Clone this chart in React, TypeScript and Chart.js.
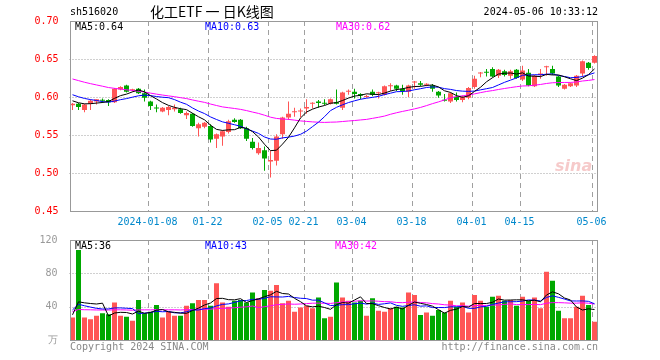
import React, { useEffect, useRef } from 'react';
import { Chart, registerables } from 'chart.js';

Chart.register(...registerables);

// ---------------- data ----------------
const dates = [
  '2023-12-19', '2023-12-20', '2023-12-21', '2023-12-22', '2023-12-25', '2023-12-26', '2023-12-27', '2023-12-28', '2023-12-29',
  '2024-01-02', '2024-01-03', '2024-01-04', '2024-01-05', '2024-01-08', '2024-01-09', '2024-01-10', '2024-01-11', '2024-01-12',
  '2024-01-15', '2024-01-16', '2024-01-17', '2024-01-18', '2024-01-19', '2024-01-22', '2024-01-23', '2024-01-24', '2024-01-25',
  '2024-01-26', '2024-01-29', '2024-01-30', '2024-01-31',
  '2024-02-01', '2024-02-02', '2024-02-05', '2024-02-06', '2024-02-07', '2024-02-08', '2024-02-19', '2024-02-20', '2024-02-21',
  '2024-02-22', '2024-02-23', '2024-02-26', '2024-02-27', '2024-02-28', '2024-02-29',
  '2024-03-01', '2024-03-04', '2024-03-05', '2024-03-06', '2024-03-07', '2024-03-08', '2024-03-11', '2024-03-12', '2024-03-13',
  '2024-03-14', '2024-03-15', '2024-03-18', '2024-03-19', '2024-03-20', '2024-03-21', '2024-03-22', '2024-03-25', '2024-03-26',
  '2024-03-27', '2024-03-28', '2024-03-29',
  '2024-04-01', '2024-04-02', '2024-04-03', '2024-04-08', '2024-04-09', '2024-04-10', '2024-04-11', '2024-04-12', '2024-04-15',
  '2024-04-16', '2024-04-17', '2024-04-18', '2024-04-19', '2024-04-22', '2024-04-23', '2024-04-24', '2024-04-25', '2024-04-26',
  '2024-04-29', '2024-04-30',
  '2024-05-06',
];

const opens = [
  0.589, 0.591, 0.583, 0.591, 0.594, 0.596, 0.596, 0.593, 0.610, 0.615,
  0.609, 0.611, 0.605, 0.594, 0.586, 0.581, 0.583, 0.584, 0.584, 0.576,
  0.578, 0.559, 0.561, 0.562, 0.545, 0.548, 0.554, 0.570, 0.570, 0.559,
  0.541, 0.526, 0.530, 0.515, 0.516, 0.551, 0.573, 0.580, 0.581, 0.585,
  0.591, 0.594, 0.592, 0.591, 0.593, 0.586, 0.607, 0.607, 0.604, 0.600,
  0.607, 0.605, 0.603, 0.614, 0.615, 0.611, 0.607, 0.619, 0.618, 0.616,
  0.615, 0.607, 0.596, 0.594, 0.600, 0.596, 0.599, 0.613, 0.631, 0.633,
  0.637, 0.628, 0.634, 0.628, 0.636, 0.623, 0.632, 0.614, 0.629, 0.639,
  0.637, 0.627, 0.611, 0.614, 0.615, 0.631, 0.645, 0.645,
];
const highs = [
  0.592, 0.592, 0.591, 0.597, 0.597, 0.598, 0.597, 0.612, 0.614, 0.616,
  0.611, 0.612, 0.610, 0.595, 0.590, 0.587, 0.588, 0.590, 0.586, 0.581,
  0.579, 0.566, 0.567, 0.564, 0.552, 0.556, 0.570, 0.572, 0.571, 0.561,
  0.546, 0.540, 0.535, 0.529, 0.551, 0.574, 0.594, 0.586, 0.585, 0.597,
  0.593, 0.596, 0.597, 0.598, 0.610, 0.607, 0.610, 0.611, 0.605, 0.603,
  0.610, 0.607, 0.615, 0.618, 0.616, 0.616, 0.616, 0.621, 0.621, 0.618,
  0.617, 0.608, 0.604, 0.606, 0.606, 0.602, 0.613, 0.628, 0.633, 0.637,
  0.639, 0.637, 0.636, 0.636, 0.637, 0.641, 0.637, 0.629, 0.637, 0.641,
  0.641, 0.628, 0.617, 0.619, 0.629, 0.648, 0.646, 0.655,
];
const lows = [
  0.583, 0.583, 0.580, 0.583, 0.590, 0.592, 0.588, 0.592, 0.609, 0.606,
  0.607, 0.604, 0.594, 0.583, 0.580, 0.580, 0.576, 0.581, 0.578, 0.571,
  0.561, 0.548, 0.559, 0.540, 0.533, 0.536, 0.552, 0.566, 0.558, 0.542,
  0.531, 0.524, 0.503, 0.494, 0.510, 0.545, 0.570, 0.574, 0.573, 0.578,
  0.585, 0.586, 0.589, 0.590, 0.590, 0.583, 0.603, 0.598, 0.597, 0.599,
  0.601, 0.598, 0.602, 0.608, 0.608, 0.603, 0.600, 0.611, 0.614, 0.614,
  0.607, 0.599, 0.594, 0.592, 0.594, 0.593, 0.597, 0.611, 0.626, 0.627,
  0.626, 0.625, 0.627, 0.624, 0.624, 0.621, 0.614, 0.613, 0.624, 0.628,
  0.629, 0.613, 0.610, 0.613, 0.613, 0.627, 0.636, 0.644,
];
const closes = [
  0.591, 0.587, 0.590, 0.595, 0.597, 0.595, 0.593, 0.611, 0.613, 0.607,
  0.610, 0.605, 0.599, 0.588, 0.585, 0.586, 0.587, 0.586, 0.579, 0.579,
  0.562, 0.564, 0.566, 0.544, 0.551, 0.555, 0.568, 0.567, 0.559, 0.545,
  0.533, 0.533, 0.519, 0.517, 0.548, 0.573, 0.578, 0.581, 0.582, 0.587,
  0.592, 0.592, 0.591, 0.597, 0.591, 0.606, 0.608, 0.604, 0.602, 0.601,
  0.603, 0.606, 0.614, 0.615, 0.611, 0.608, 0.615, 0.620, 0.616, 0.617,
  0.611, 0.602, 0.595, 0.605, 0.596, 0.600, 0.612, 0.624, 0.632, 0.632,
  0.627, 0.636, 0.629, 0.634, 0.625, 0.635, 0.615, 0.628, 0.631, 0.640,
  0.631, 0.615, 0.616, 0.618, 0.628, 0.647, 0.638, 0.654,
];
// closes before the first visible day (feed the moving averages)
const priorCloses = [
  0.652, 0.655, 0.650, 0.648, 0.645, 0.646, 0.642, 0.640, 0.638, 0.635,
  0.636, 0.632, 0.630, 0.625, 0.622, 0.620, 0.618, 0.617, 0.615, 0.616,
  0.614, 0.612, 0.610, 0.609, 0.610, 0.600, 0.597, 0.594, 0.593,
];

// volume, 万 (10k)
const volumes = [
  27, 108, 27, 25, 29, 32, 31, 45, 29, 28,
  23, 48, 32, 34, 42, 27, 34, 29, 29, 41,
  44, 48, 48, 41, 68, 45, 40, 47, 48, 45,
  57, 50, 60, 59, 66, 44, 47, 34, 39, 41,
  38, 51, 26, 28, 69, 51, 47, 45, 47, 29,
  50, 35, 34, 38, 40, 39, 57, 54, 30, 33,
  29, 36, 33, 47, 40, 45, 33, 54, 47, 40,
  52, 53, 47, 48, 41, 52, 47, 51, 38, 82,
  71, 35, 26, 26, 40, 53, 42, 22,
];
const priorVolumes = [
  30, 36, 28, 35, 33, 31, 38, 29, 34, 32,
  36, 30, 35, 33, 31, 37, 29, 34, 32, 37,
  40, 45, 41, 44, 40, 30, 33, 29, 32,
];

const tickDates = [
  '2024-01-08', '2024-01-22', '2024-02-05', '2024-02-21', '2024-03-04',
  '2024-03-18', '2024-04-01', '2024-04-15', '2024-05-06',
];
const priceTicks = [0.45, 0.5, 0.55, 0.6, 0.65, 0.7];
const volumeTicks = [0, 40, 80, 120];

const CODE = 'sh516020';
const TITLE = '化工ETF 一 日K线图';
const TIMESTAMP = '2024-05-06 10:33:12';
const PRICE_LEGEND = ['MA5:0.64', 'MA10:0.63', 'MA30:0.62'];
const VOLUME_LEGEND = ['MA5:36', 'MA10:43', 'MA30:42'];
const VOLUME_UNIT = '万';
const COPYRIGHT = 'Copyright 2024 SINA.COM';
const SITE = 'http://finance.sina.com.cn';
const WATERMARK = 'sina';

// ---------------- styles ----------------
const UP = '#FF5555';
const DOWN = '#00A800';
const MA_COLORS = ['#000000', '#0000FF', '#FF00FF'];
const MONO = '"DejaVu Sans Mono", monospace';
const GRID = '#A0A0A0';
const FRAME = '#999999';

function movingAverage(prior: number[], values: number[], n: number): number[] {
  const all = prior.concat(values);
  return values.map((_, i) => {
    const end = prior.length + i + 1;
    const slice = all.slice(Math.max(0, end - n), end);
    return slice.reduce((a, b) => a + b, 0) / slice.length;
  });
}

function gridAndFrame(hLines: number[]) {
  return {
    id: 'sinaGrid',
    beforeDatasetsDraw(chart: any) {
      const { ctx, chartArea: a, scales } = chart;
      const x = scales.x;
      const y = scales.y;
      ctx.save();
      ctx.strokeStyle = GRID;
      ctx.lineWidth = 1;
      ctx.setLineDash([1, 2]);
      hLines.forEach((v) => {
        const py = Math.round(y.getPixelForValue(v)) + 0.5;
        ctx.beginPath();
        ctx.moveTo(a.left, py);
        ctx.lineTo(a.right, py);
        ctx.stroke();
      });
      ctx.setLineDash([5, 4]);
      const slot = x.getPixelForValue(1) - x.getPixelForValue(0);
      tickDates.forEach((d) => {
        const idx = dates.indexOf(d);
        if (idx < 0) return;
        const px = Math.round(x.getPixelForValue(idx) - slot / 2) + 0.5;
        ctx.beginPath();
        ctx.moveTo(px, a.top);
        ctx.lineTo(px, a.bottom);
        ctx.stroke();
      });
      ctx.restore();
    },
    afterDatasetsDraw(chart: any) {
      const { ctx, chartArea: a } = chart;
      ctx.save();
      ctx.strokeStyle = FRAME;
      ctx.lineWidth = 1;
      ctx.setLineDash([]);
      const L = Math.round(a.left) + 0.5;
      const R = Math.floor(a.right) + 0.5;
      const T = Math.round(a.top) + 0.5;
      const B = Math.round(a.bottom) + 0.5;
      ctx.strokeRect(L, T, R - L, B - T);
      ctx.restore();
    },
  };
}

function legendText(items: string[], xs: number[], y: number) {
  return (ctx: CanvasRenderingContext2D) => {
    ctx.font = `10px ${MONO}`;
    ctx.textBaseline = 'middle';
    ctx.textAlign = 'left';
    items.forEach((t, i) => {
      ctx.fillStyle = MA_COLORS[i];
      ctx.fillText(t, xs[i], y);
    });
  };
}

export default function App() {
  const priceRef = useRef<HTMLCanvasElement>(null);
  const volRef = useRef<HTMLCanvasElement>(null);

  useEffect(() => {
    const colors = closes.map((c, i) => (c >= opens[i] ? UP : DOWN));
    const maP = [5, 10, 30].map((n) => movingAverage(priorCloses, closes, n));
    const maV = [5, 10, 30].map((n) => movingAverage(priorVolumes, volumes, n));

    const lineDs = (data: number[], i: number) => ({
      type: 'line' as const,
      data,
      borderColor: MA_COLORS[i],
      borderWidth: 1,
      pointRadius: 0,
      fill: false,
      tension: 0,
      order: 0,
    });

    const drawPriceLegend = legendText(PRICE_LEGEND, [75, 205, 336], 27);
    const drawVolLegend = legendText(VOLUME_LEGEND, [75, 205, 335], 16.5);

    const priceChart = new Chart(priceRef.current as HTMLCanvasElement, {
      type: 'bar',
      data: {
        labels: dates,
        datasets: [
          lineDs(maP[0], 0),
          lineDs(maP[1], 1),
          lineDs(maP[2], 2),
          {
            type: 'bar',
            data: opens.map((o, i) => [o, closes[i]]),
            backgroundColor: colors,
            borderWidth: 0,
            barThickness: 5,
            minBarLength: 1,
            grouped: false,
            inflateAmount: 0,
            order: 1,
          } as any,
          {
            type: 'bar',
            data: lows.map((l, i) => [l, highs[i]]),
            backgroundColor: colors,
            borderWidth: 0,
            barThickness: 1,
            grouped: false,
            inflateAmount: 0,
            order: 2,
          } as any,
        ],
      },
      options: {
        animation: false,
        responsive: false,
        events: [],
        layout: { autoPadding: false, padding: { left: 0, right: 62.5, top: 21, bottom: 0 } },
        plugins: { legend: { display: false }, tooltip: { enabled: false } },
        scales: {
          x: {
            type: 'category',
            offset: true,
            grid: { display: false },
            border: { display: false },
            afterFit: (s: any) => { s.height = 25; },
            ticks: {
              autoSkip: false,
              maxRotation: 0,
              minRotation: 0,
              padding: -3,
              labelOffset: -3,
              color: '#0088CC',
              font: { family: MONO, size: 10 },
              callback: (_v: any, idx: number) => {
                const d = dates[idx];
                const k = tickDates.indexOf(d);
                if (k < 0) return '';
                return k === 0 ? d : d.slice(5);
              },
            },
          },
          y: {
            type: 'linear',
            min: priceTicks[0],
            max: priceTicks[priceTicks.length - 1],
            grid: { display: false },
            border: { display: false },
            afterFit: (s: any) => { s.width = 69.5; },
            afterBuildTicks: (s: any) => { s.ticks = priceTicks.map((v) => ({ value: v })); },
            ticks: {
              padding: 3,
              color: '#FF0000',
              font: { family: MONO, size: 10 },
              callback: (v: any) => Number(v).toFixed(2),
            },
          },
        },
      },
      plugins: [
        gridAndFrame(priceTicks.slice(1, -1)),
        {
          id: 'priceText',
          beforeDatasetsDraw(chart: any) {
            const ctx = chart.ctx;
            ctx.save();
            ctx.font = 'italic bold 16px "DejaVu Sans", sans-serif';
            ctx.fillStyle = 'rgba(225, 80, 80, 0.3)';
            ctx.textAlign = 'left';
            ctx.textBaseline = 'alphabetic';
            ctx.fillText(WATERMARK, 555, 171);
            ctx.restore();
          },
          afterDraw(chart: any) {
            const ctx = chart.ctx;
            ctx.save();
            ctx.textBaseline = 'middle';
            ctx.fillStyle = '#000000';
            ctx.font = `10px ${MONO}`;
            ctx.textAlign = 'left';
            ctx.fillText(CODE, 70, 12);
            ctx.font = '14px "Noto Sans CJK SC", sans-serif';
            ctx.fillText(TITLE, 150, 12);
            ctx.font = `10px ${MONO}`;
            ctx.textAlign = 'right';
            ctx.fillText(TIMESTAMP, 598, 12);
            drawPriceLegend(ctx);
            ctx.restore();
          },
        },
      ],
    } as any);

    const volChart = new Chart(volRef.current as HTMLCanvasElement, {
      type: 'bar',
      data: {
        labels: dates,
        datasets: [
          lineDs(maV[0], 0),
          lineDs(maV[1], 1),
          lineDs(maV[2], 2),
          {
            type: 'bar',
            data: volumes,
            backgroundColor: colors,
            borderWidth: 0,
            barThickness: 5,
            grouped: false,
            inflateAmount: 0,
            order: 1,
          } as any,
        ],
      },
      options: {
        animation: false,
        responsive: false,
        events: [],
        layout: { autoPadding: false, padding: { left: 0, right: 62.5, top: 10, bottom: 20 } },
        plugins: { legend: { display: false }, tooltip: { enabled: false } },
        scales: {
          x: {
            type: 'category',
            offset: true,
            display: false,
          },
          y: {
            type: 'linear',
            min: volumeTicks[0],
            max: volumeTicks[volumeTicks.length - 1],
            grid: { display: false },
            border: { display: false },
            afterFit: (s: any) => { s.width = 69.5; },
            afterBuildTicks: (s: any) => { s.ticks = volumeTicks.map((v) => ({ value: v })); },
            ticks: {
              padding: 4,
              color: '#999999',
              font: { family: MONO, size: 10 },
              callback: (v: any) => (Number(v) === 0 ? VOLUME_UNIT : String(v)),
            },
          },
        },
      },
      plugins: [
        gridAndFrame(volumeTicks.slice(1, -1)),
        {
          id: 'volText',
          afterDraw(chart: any) {
            const ctx = chart.ctx;
            ctx.save();
            drawVolLegend(ctx);
            ctx.font = `10px ${MONO}`;
            ctx.fillStyle = '#888888';
            ctx.textBaseline = 'middle';
            ctx.textAlign = 'left';
            ctx.fillText(COPYRIGHT, 70, 117);
            ctx.textAlign = 'right';
            ctx.fillText(SITE, 598, 117);
            ctx.restore();
          },
        },
      ],
    } as any);

    return () => {
      priceChart.destroy();
      volChart.destroy();
    };
  }, []);

  return (
    <div style={{ position: 'fixed', left: 0, top: 0, width: 660, height: 360, background: '#FFFFFF' }}>
      <canvas ref={priceRef} width={660} height={236} style={{ position: 'absolute', left: 0, top: 0 }} />
      <canvas ref={volRef} width={660} height={130} style={{ position: 'absolute', left: 0, top: 230 }} />
    </div>
  );
}
